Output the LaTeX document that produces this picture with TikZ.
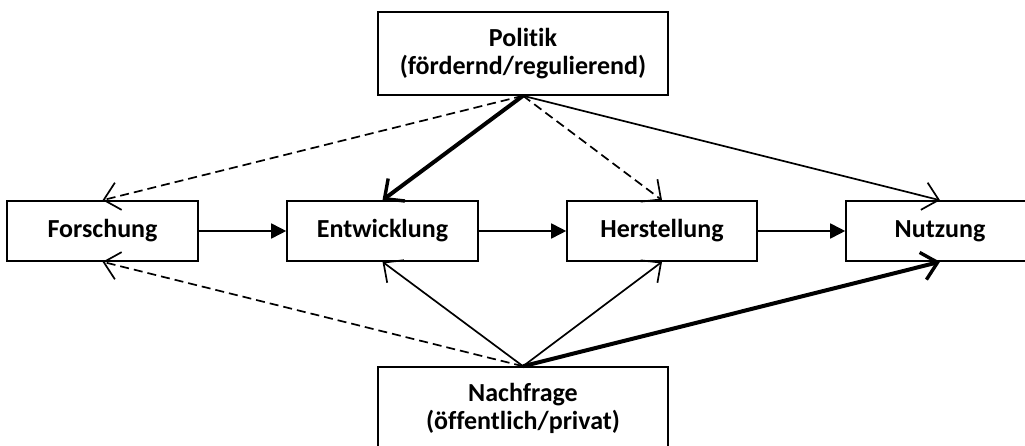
\documentclass[tikz,border=0pt]{standalone}
\usepackage{fontspec}
\setmainfont{Carlito}[BoldFont={Carlito Bold},Ligatures={NoCommon}]
\usetikzlibrary{arrows.meta}
\begin{document}
\begin{tikzpicture}[x=1pt,y=-1pt,
  box/.style={draw,line width=1.6pt,inner sep=0pt,align=center,
    font=\fontsize{26}{28}\selectfont\bfseries},
  flow/.style={line width=1.7pt,-{Triangle[length=15pt,width=15pt]}},
  infl/.style={line width=1.7pt,-{Straight Barb[length=15pt,width=28pt,line width=1.7pt]}},
  strong/.style={line width=4pt,-{Straight Barb[length=15pt,width=28pt,line width=3.4pt]}},
  weak/.style={infl,dash pattern=on 9pt off 5pt}]
\clip (0,0) rectangle (1025,446);
\node[box,minimum width=290pt,minimum height=83pt] (pol) at (523,53.5) {Politik\\(fördernd/regulierend)};
\node[box,minimum width=290pt,minimum height=83pt] (nach) at (523,408.5) {Nachfrage\\(öffentlich/privat)};
\node[box,minimum width=191pt,minimum height=60pt] (for) at (102.5,231) {Forschung};
\node[box,minimum width=191pt,minimum height=60pt] (ent) at (382.5,231) {Entwicklung};
\node[box,minimum width=190pt,minimum height=60pt] (her) at (662,231) {Herstellung};
\node[box,minimum width=188pt,minimum height=60pt] (nut) at (940,231) {Nutzung};
\draw[flow] (for) -- (ent);
\draw[flow] (ent) -- (her);
\draw[flow] (her) -- (nut);
\draw[weak] (pol.south) -- (for.north);
\draw[strong] (pol.south) -- (ent.north);
\draw[weak] (pol.south) -- (her.north);
\draw[infl] (pol.south) -- (nut.north);
\draw[weak] (nach.north) -- (for.south);
\draw[infl] (nach.north) -- (ent.south);
\draw[infl] (nach.north) -- (her.south);
\draw[strong] (nach.north) -- (nut.south);
\end{tikzpicture}
\end{document}
